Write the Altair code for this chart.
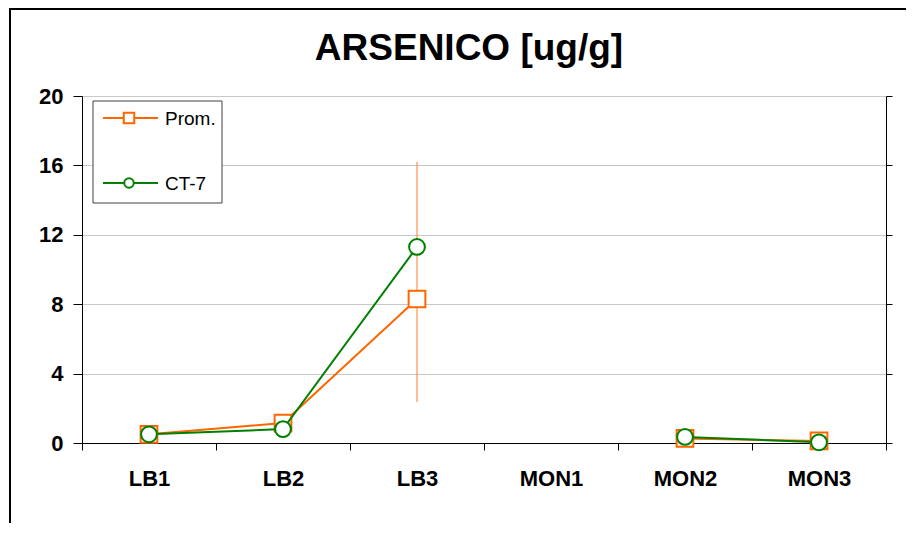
import altair as alt
import pandas as pd

# ---- data ----
categories = ["LB1", "LB2", "LB3", "MON1", "MON2", "MON3"]
series_names = ["Prom.", "CT-7"]
prom_values = [0.5, 1.15, 8.3, None, 0.26, 0.12]
ct7_values = [0.5, 0.8, 11.3, None, 0.35, 0.04]
err_category = ["LB3"]
err_low = [2.35]
err_high = [16.2]
y_ticks = [0, 4, 8, 12, 16, 20]
title_text = ["ARSENICO [ug/g]"]

series_colors = ["#FF6600", "#008000"]
series_shapes = ["square", "circle"]

FONT = "Liberation Sans"

rows = []
for name, vals in zip(series_names, [prom_values, ct7_values]):
    for c, v in zip(categories, vals):
        rows.append({"series": name, "cat": c, "value": v})
df = pd.DataFrame(rows)
err_df = pd.DataFrame({"cat": err_category, "low": err_low, "high": err_high})

x_scale = alt.Scale(type="band", domain=categories, paddingInner=0, paddingOuter=0)
y_scale = alt.Scale(domain=[0, 20], nice=False)

x_axis = alt.Axis(
    title=None, tickBand="extent", labelAngle=0, labelFont=FONT, labelFontSize=22,
    labelFontWeight="bold", labelColor="black", labelPadding=18, tickSize=7,
    tickColor="black", domainColor="black", grid=False,
)
x_enc = alt.X("cat:N", scale=x_scale, sort=categories, axis=x_axis)

left_axis = alt.Axis(
    title=None, values=y_ticks, labelFont=FONT, labelFontSize=22, labelFontWeight="bold",
    labelColor="black", labelPadding=10, tickSize=9, tickColor="black",
    domainColor="black", grid=True, gridColor="#C8C8C8", gridWidth=1,
)
right_axis = alt.Axis(
    title=None, orient="right", values=y_ticks, labels=False, tickSize=6,
    tickColor="black", domainColor="black", grid=False,
)

err_layer = alt.Chart(err_df).mark_rule(color="#FF7A30", strokeWidth=1).encode(
    x=x_enc,
    y=alt.Y("low:Q", scale=y_scale, axis=right_axis),
    y2="high:Q",
)

layers = [err_layer]
for i, name in enumerate(series_names):
    sub = alt.Chart(df).transform_filter(alt.datum.series == name)
    line = sub.mark_line(
        color=series_colors[i], strokeWidth=2, invalid="break-paths-show-domains"
    ).encode(
        x=x_enc,
        y=alt.Y("value:Q", scale=y_scale, axis=left_axis if i == 0 else None),
    )
    pts = sub.mark_point(
        shape=series_shapes[i], filled=True, fill="white", stroke=series_colors[i],
        strokeWidth=2, opacity=1, size=280 if i == 0 else 250,
    ).encode(
        x=x_enc,
        y=alt.Y("value:Q", scale=y_scale, axis=None),
    )
    layers += [line, pts]

# ---- legend box (drawn by hand to show line + marker) ----
one = pd.DataFrame({"k": [0]})
legend_box = alt.Chart(one).mark_rect(fill="white", stroke="#404040", strokeWidth=1).encode(
    x=alt.value(11), x2=alt.value(140), y=alt.value(5), y2=alt.value(107)
)
layers.append(legend_box)
legend_rows_y = [22, 87]
for i, name in enumerate(series_names):
    ly = legend_rows_y[i]
    layers.append(
        alt.Chart(one).mark_rule(color=series_colors[i], strokeWidth=2).encode(
            x=alt.value(21), x2=alt.value(76), y=alt.value(ly)
        )
    )
    layers.append(
        alt.Chart(one).mark_point(
            shape=series_shapes[i], filled=True, fill="white", stroke=series_colors[i],
            strokeWidth=2, opacity=1, size=110 if i == 0 else 90,
        ).encode(x=alt.value(47), y=alt.value(ly))
    )
    layers.append(
        alt.Chart(pd.DataFrame({"label": [name]})).mark_text(
            align="left", baseline="middle", font=FONT, fontSize=19, color="black"
        ).encode(x=alt.value(83), y=alt.value(ly + 1), text="label:N")
    )

# ---- title as a text mark ----
layers.append(
    alt.Chart(pd.DataFrame({"t": title_text})).mark_text(
        align="center", baseline="alphabetic", font=FONT, fontSize=37,
        fontWeight="bold", color="black",
    ).encode(x=alt.value(387), y=alt.value(-36), text="t:N")
)

# ---- outer chart frame (left and top edges) ----
layers.append(
    alt.Chart(one).mark_rule(color="black", strokeWidth=2).encode(
        x=alt.value(-72), y=alt.value(-88), y2=alt.value(440)
    )
)
layers.append(
    alt.Chart(one).mark_rule(color="black", strokeWidth=2).encode(
        x=alt.value(-73), x2=alt.value(840), y=alt.value(-87)
    )
)

chart = (
    alt.layer(*layers)
    .resolve_axis(y="independent")
    .properties(
        width=804,
        height=347,
        autosize=alt.AutoSizeParams(type="none"),
        padding={"left": 74, "top": 88, "right": 20, "bottom": 80},
    )
    .configure_view(stroke="#808080", strokeWidth=1)
    .configure(background="white")
)

chart.save("out.html", embed_options={"renderer": "svg", "actions": False})
